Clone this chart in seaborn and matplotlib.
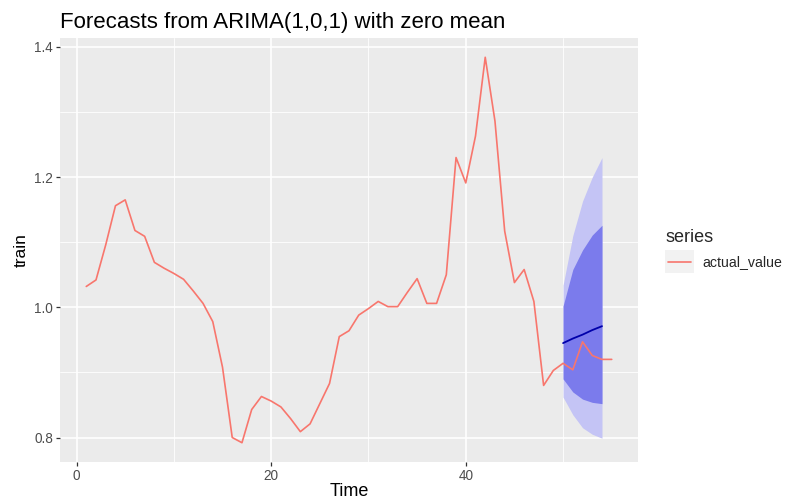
import matplotlib
matplotlib.use("Agg")
import matplotlib.pyplot as plt
from matplotlib.lines import Line2D
from matplotlib.patches import Rectangle
import seaborn as sns
import pandas as pd

# ---- data ----
time_actual = list(range(1, 56))
actual_value = [1.032, 1.042, 1.096, 1.156, 1.165, 1.118, 1.109, 1.069, 1.060, 1.052,
                1.043, 1.025, 1.006, 0.978, 0.908, 0.800, 0.792, 0.843, 0.863, 0.856,
                0.847, 0.829, 0.809, 0.821, 0.852, 0.883, 0.955, 0.964, 0.988, 0.998,
                1.009, 1.001, 1.001, 1.023, 1.044, 1.006, 1.006, 1.050, 1.230, 1.191,
                1.263, 1.384, 1.286, 1.117, 1.038, 1.058, 1.009, 0.880, 0.903, 0.914,
                0.904, 0.947, 0.926, 0.920, 0.920]
time_fc = [50, 51, 52, 53, 54]
fc_mean = [0.945, 0.952, 0.958, 0.965, 0.971]
lo80 = [0.890, 0.870, 0.859, 0.854, 0.852]
hi80 = [1.002, 1.058, 1.088, 1.111, 1.126]
lo95 = [0.862, 0.835, 0.815, 0.805, 0.799]
hi95 = [1.034, 1.110, 1.163, 1.200, 1.230]

x_ticks = [0, 20, 40]
y_ticks = [0.8, 1.0, 1.2, 1.4]
title = "Forecasts from ARIMA(1,0,1) with zero mean"

df_act = pd.DataFrame({"Time": time_actual, "train": actual_value})
df_fc = pd.DataFrame({"Time": time_fc, "mean": fc_mean,
                      "lo80": lo80, "hi80": hi80, "lo95": lo95, "hi95": hi95})

sns.set_theme(style="darkgrid")
plt.rcParams["font.family"] = ["Liberation Sans", "DejaVu Sans"]

W, H = 786, 500
fig = plt.figure(figsize=(W / 100, H / 100), dpi=100)
L, R, T, B = 60, 638, 38, 462
ax = fig.add_axes([L / W, 1 - B / H, (R - L) / W, (B - T) / H])
ax.set_facecolor("#EBEBEB")

ax.fill_between(df_fc["Time"], df_fc["lo95"], df_fc["hi95"], color="#C4C4F5",
                linewidth=0, zorder=2)
ax.fill_between(df_fc["Time"], df_fc["lo80"], df_fc["hi80"], color="#7B7BEC",
                linewidth=0, zorder=3)
sns.lineplot(data=df_fc, x="Time", y="mean", ax=ax, color="#0000AA",
             linewidth=1.3, zorder=4)
sns.lineplot(data=df_act, x="Time", y="train", ax=ax, color="#F8766D",
             linewidth=1.2, zorder=5)

# ggplot-like expansion (5%)
x0, x1 = min(time_actual), max(time_actual)
dx = (x1 - x0) * 0.05
ax.set_xlim(x0 - dx, x1 + dx)
ymin = min(min(actual_value), min(lo95))
ymax = max(max(actual_value), max(hi95))
dy = (ymax - ymin) * 0.05
ax.set_ylim(ymin - dy, ymax + dy)

ax.set_xticks(x_ticks)
ax.set_yticks(y_ticks)
ax.set_yticklabels([f"{v:.1f}" for v in y_ticks])
ax.set_xticks([10, 30, 50], minor=True)
ax.set_yticks([0.9, 1.1, 1.3], minor=True)
ax.grid(which="major", color="white", linewidth=1.2)
ax.grid(which="minor", color="white", linewidth=0.6)
ax.set_axisbelow(True)
for s in ax.spines.values():
    s.set_visible(False)
ax.tick_params(axis="both", which="major", length=3, width=0.9, color="#333333",
               labelcolor="#4D4D4D", labelsize=9.8, pad=2, bottom=True, left=True)
ax.tick_params(axis="both", which="minor", length=0)

ax.set_xlabel("Time", fontsize=13, color="black", labelpad=0)
ax.set_ylabel("train", fontsize=12.5, color="black", labelpad=4)
fig.text(L / W, 1 - 28 / H, title, fontsize=16, color="black",
         ha="left", va="baseline")

# legend (ggplot style)
fig.text(665 / W, 1 - 242 / H, "series", fontsize=13, ha="left", va="baseline")
fig.patches.append(Rectangle((665 / W, 1 - 273 / H), 29 / W, 23 / H,
                             transform=fig.transFigure, facecolor="#F2F2F2",
                             edgecolor="none", zorder=1))
fig.lines.append(Line2D([668 / W, 691 / W], [1 - 262 / H, 1 - 262 / H],
                        transform=fig.transFigure, color="#F8766D", linewidth=1.2))
fig.text(702 / W, 1 - 262 / H, "actual_value", fontsize=10.2, ha="left", va="center")

fig.savefig("out.png", dpi=100)
